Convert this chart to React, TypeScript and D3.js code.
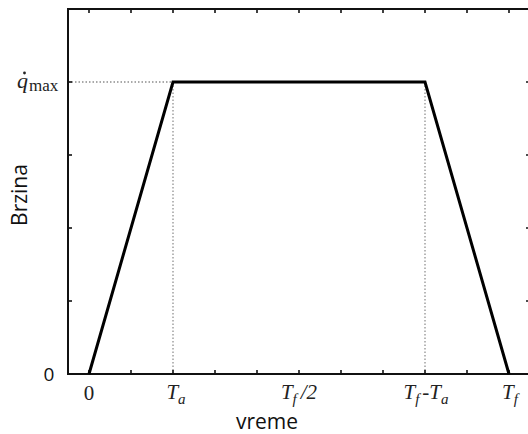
import React from "react";
import * as d3 from "d3";

// Data: trapezoidal velocity profile (time in tick units, speed in tick units)
const timePoints = [0, 2, 8, 10];
const speedValues = [0, 4, 4, 0];
const xTickValues = [0, 1, 2, 3, 4, 5, 6, 7, 8, 9, 10];
const yTickValues = [0, 1, 2, 3, 4, 5];
const guideX = [2, 8];
const qmaxValue = 4;

const W = 528;
const H = 434;
const X0 = 68;
const X1 = 530;
const Y0 = 374;
const Y1 = 9;

const serif = "'Liberation Serif', 'Times New Roman', serif";
const sans = "'Open Sans', 'Noto Sans', sans-serif";

export default function App() {
  const x = d3.scaleLinear().domain([-0.5, 10.5]).range([X0, X1]);
  const y = d3.scaleLinear().domain([0, 5]).range([Y0, Y1]);
  const pts = timePoints.map((t, i) => [t, speedValues[i]] as [number, number]);
  const line = d3
    .line<[number, number]>()
    .x((d) => x(d[0]))
    .y((d) => y(d[1]));
  const tl = 4;

  const tickLabel = (v: number) => {
    const px = x(v);
    const base = 399;
    const common = { fontFamily: serif, fill: "#222" } as const;
    if (v === 0)
      return (
        <text key={v} x={px} y={base + 1} textAnchor="middle" fontSize={21} {...common}>
          0
        </text>
      );
    if (v === 2)
      return (
        <text key={v} x={px + 3} y={base} textAnchor="middle" fontSize={21} fontStyle="italic" {...common}>
          T<tspan fontSize={15} dy={5}>a</tspan>
        </text>
      );
    if (v === 5)
      return (
        <text key={v} x={px} y={base} textAnchor="middle" fontSize={21} fontStyle="italic" {...common}>
          T<tspan fontSize={15} dy={5}>f</tspan>
          <tspan dy={-5} dx={4}>/2</tspan>
        </text>
      );
    if (v === 8)
      return (
        <text key={v} x={px + 1} y={base} textAnchor="middle" fontSize={21} fontStyle="italic" {...common}>
          T<tspan fontSize={15} dy={5}>f</tspan>
          <tspan dy={-5} dx={3} fontStyle="normal">-</tspan>T<tspan fontSize={15} dy={5}>a</tspan>
        </text>
      );
    if (v === 10)
      return (
        <text key={v} x={px + 1} y={base} textAnchor="middle" fontSize={21} fontStyle="italic" {...common}>
          T<tspan fontSize={15} dy={5}>f</tspan>
        </text>
      );
    return null;
  };

  return (
    <svg
      width={W}
      height={H}
      style={{ position: "absolute", left: 0, top: 0, background: "#fff" }}
    >
      <rect x={0} y={0} width={W} height={H} fill="#fff" />
      {/* dotted guides */}
      <line
        x1={X0}
        x2={x(guideX[0])}
        y1={y(qmaxValue)}
        y2={y(qmaxValue)}
        stroke="#555"
        strokeWidth={1.2}
        strokeDasharray="1.5,2"
      />
      {guideX.map((g) => (
        <line
          key={g}
          x1={x(g)}
          x2={x(g)}
          y1={y(qmaxValue)}
          y2={Y0}
          stroke="#888"
          strokeWidth={1.2}
          strokeDasharray="1.5,2"
        />
      ))}
      {/* ticks */}
      {xTickValues.map((v) => (
        <g key={"xt" + v}>
          <line x1={x(v)} x2={x(v)} y1={Y0} y2={Y0 - tl} stroke="#111" strokeWidth={1.6} />
          <line x1={x(v)} x2={x(v)} y1={Y1} y2={Y1 + tl} stroke="#111" strokeWidth={1.6} />
        </g>
      ))}
      {yTickValues.map((v) => (
        <g key={"yt" + v}>
          <line x1={X0} x2={X0 + tl} y1={y(v)} y2={y(v)} stroke="#111" strokeWidth={1.6} />
          <line x1={X1} x2={X1 - tl} y1={y(v)} y2={y(v)} stroke="#111" strokeWidth={1.6} />
        </g>
      ))}
      {/* frame */}
      <rect
        x={X0}
        y={Y1}
        width={X1 - X0}
        height={Y0 - Y1}
        fill="none"
        stroke="#111"
        strokeWidth={2}
      />
      {/* data */}
      <path d={line(pts) || ""} fill="none" stroke="#000" strokeWidth={3} strokeLinejoin="miter" />
      {/* x tick labels */}
      {xTickValues.map((v) => tickLabel(v))}
      {/* y labels */}
      <text x={49} y={y(0) + 7} textAnchor="middle" fontSize={19} fontFamily={sans} fill="#111">
        0
      </text>
      <text x={17} y={y(qmaxValue) + 6} fontSize={22} fontStyle="italic" fontFamily={serif} fill="#222">
        q
      </text>
      <circle cx={24.5} cy={y(qmaxValue) - 9} r={1.4} fill="#222" />
      <text x={29} y={y(qmaxValue) + 9} fontSize={17} fontFamily={serif} fill="#222">
        max
      </text>
      {/* axis titles */}
      <text
        transform={`translate(27,${195}) rotate(-90)`}
        textAnchor="middle"
        fontSize={21}
        fontFamily={sans}
        fill="#111"
      >
        Brzina
      </text>
      <text x={267} y={429} textAnchor="middle" fontSize={21} fontFamily={sans} fill="#111">
        vreme
      </text>
    </svg>
  );
}
